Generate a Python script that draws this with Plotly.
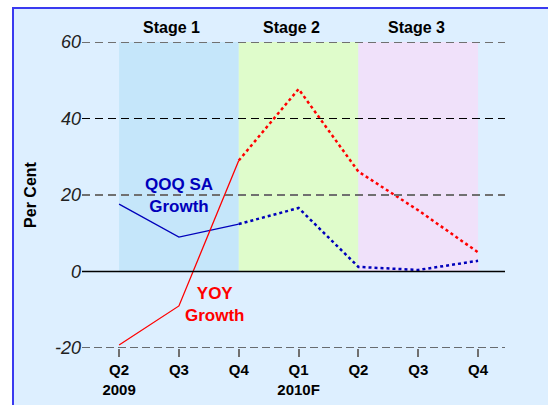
import plotly.graph_objects as go

quarters = ["Q2", "Q3", "Q4", "Q1", "Q2", "Q3", "Q4"]
years = ["2009", "", "", "2010F", "", "", ""]
qoq_sa = [17.6, 9.0, 12.4, 16.6, 1.2, 0.4, 2.8]
yoy = [-19.2, -9.0, 29.0, 47.7, 26.1, 16.0, 5.0]
stages = ["Stage 1", "Stage 2", "Stage 3"]
stage_bounds = [(0, 2), (2, 4), (4, 6)]
stage_colors = ["#C5E6FA", "#DFFCCB", "#F0E1FA"]
y_ticks = [-20, 0, 20, 40, 60]

W, H = 548, 405
L, R, T, B = 82, 43, 42, 57
pw, ph = W - L - R, H - T - B

def px_x(p):
    return (p - L) / pw

def px_y(p):
    return 1 - (p - T) / ph

x = list(range(len(quarters)))
fig = go.Figure()

shapes = []
# outer frame
shapes.append(dict(type="rect", xref="paper", yref="paper", layer="below",
                   x0=px_x(13), x1=px_x(600), y0=px_y(450), y1=px_y(8),
                   fillcolor="#DDEFFF", line=dict(color="#3A3AF0", width=2)))
# stage shading
for (a, b), c in zip(stage_bounds, stage_colors):
    shapes.append(dict(type="rect", xref="x", yref="y", layer="below",
                       x0=a, x1=b, y0=0, y1=60, fillcolor=c, line=dict(width=0)))
# gridlines
grid_styles = {60: ("#707070", 2, "8px,5px"), 40: ("#000000", 1.2, "8px,5px"),
               20: ("#707070", 2, "8px,5px"), -20: ("#404040", 1.6, "8px,4px")}
for v in y_ticks:
    if v == 0:
        shapes.append(dict(type="line", xref="paper", yref="y", x0=0, x1=1, y0=0, y1=0,
                           line=dict(color="#000000", width=1.5)))
    else:
        c, w, d = grid_styles[v]
        shapes.append(dict(type="line", xref="paper", yref="y", x0=0, x1=1, y0=v, y1=v,
                           line=dict(color=c, width=w, dash=d)))

# QOQ SA lines
fig.add_trace(go.Scatter(x=x[:3], y=qoq_sa[:3], mode="lines",
                         line=dict(color="#0000BB", width=1.3), showlegend=False, hoverinfo="skip"))
fig.add_trace(go.Scatter(x=x[2:], y=qoq_sa[2:], mode="lines",
                         line=dict(color="#0000BB", width=2.5, dash="dot"), showlegend=False, hoverinfo="skip"))
# YOY lines
fig.add_trace(go.Scatter(x=x[:3], y=yoy[:3], mode="lines",
                         line=dict(color="#FF0000", width=1.3), showlegend=False, hoverinfo="skip"))
fig.add_trace(go.Scatter(x=x[2:], y=yoy[2:], mode="lines",
                         line=dict(color="#FF0000", width=2.5, dash="dot"), showlegend=False, hoverinfo="skip"))

annotations = []
stage_px = [171, 291.5, 416.5]
for sx, s in zip(stage_px, stages):
    annotations.append(dict(x=px_x(sx), y=px_y(28), xref="paper", yref="paper",
                            xanchor="center", yanchor="middle",
                            text=f"<b>{s}</b>", showarrow=False,
                            font=dict(size=16, color="#000000")))
annotations.append(dict(x=px_x(179), y=px_y(195), xref="paper", yref="paper",
                        xanchor="center", yanchor="middle", text="<b>QOQ SA<br>Growth</b>",
                        showarrow=False, font=dict(size=17, color="#0000BB")))
annotations.append(dict(x=px_x(215), y=px_y(304), xref="paper", yref="paper",
                        xanchor="center", yanchor="middle", text="<b>YOY<br>Growth</b>",
                        showarrow=False, font=dict(size=17, color="#FF0000")))

ticktext = []
for q, yr in zip(quarters, years):
    ticktext.append(f"<b>{q}</b><br><b>{yr}</b>" if yr else f"<b>{q}</b>")

fig.update_layout(
    width=W, height=H,
    margin=dict(l=L, r=R, t=T, b=B, pad=0),
    paper_bgcolor="#FFFFFF",
    plot_bgcolor="rgba(0,0,0,0)",
    font=dict(family="Liberation Sans, Arial, sans-serif", color="#000000"),
    shapes=shapes,
    annotations=annotations,
    xaxis=dict(range=[-0.62, 6.45], tickvals=x, ticktext=ticktext, showgrid=False,
               zeroline=False, showline=False, ticks="outside", ticklen=8, tickwidth=2,
               tickcolor="#707070", tickfont=dict(size=15, color="#000000"), automargin=False),
    yaxis=dict(range=[-20, 60], tickvals=y_ticks, ticktext=[f"<i>{v}</i>" for v in y_ticks],
               showgrid=False, zeroline=False, showline=False, ticks="",
               tickfont=dict(size=18, color="#222222"), automargin=False,
               title=dict(text="<b>Per Cent</b>", font=dict(size=16), standoff=14)),
)

fig.write_html("out.html", config={"displayModeBar": False},
               post_script="document.body.style.margin='0';")
